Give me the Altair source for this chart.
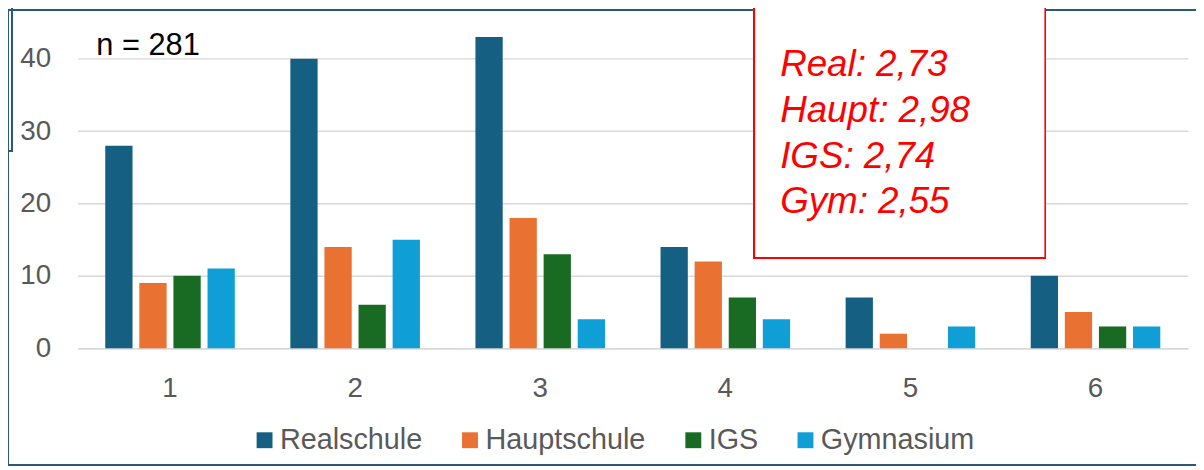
import altair as alt
import pandas as pd

categories = ["1", "2", "3", "4", "5", "6"]
series = ["Realschule", "Hauptschule", "IGS", "Gymnasium"]
realschule = [28, 40, 43, 14, 7, 10]
hauptschule = [9, 14, 18, 12, 2, 5]
igs = [10, 6, 13, 7, 0, 3]
gymnasium = [11, 15, 4, 4, 3, 3]
colors = ["#156082", "#E97132", "#196B24", "#0F9ED5"]
y_ticks = [0, 10, 20, 30, 40]
n_label = "n = 281"
box_lines = ["Real: 2,73", "Haupt: 2,98", "IGS: 2,74", "Gym: 2,55"]

rows = []
for s, vals in zip(series, [realschule, hauptschule, igs, gymnasium]):
    for c, v in zip(categories, vals):
        rows.append({"Note": c, "Schule": s, "Anzahl": v})
df = pd.DataFrame(rows)

W, H = 1119, 328
FONT = "Liberation Sans"

bars = alt.Chart(df).mark_bar().encode(
    x=alt.X("Note:N", sort=categories, title=None,
            scale=alt.Scale(paddingInner=0.3, paddingOuter=0.15),
            axis=alt.Axis(labelAngle=0, ticks=False, domain=True, domainColor="#d9d9d9",
                          domainWidth=1.5, labelFontSize=28, labelColor="#595959",
                          labelPadding=27, labelFont=FONT)),
    xOffset=alt.XOffset("Schule:N", sort=series,
                        scale=alt.Scale(paddingInner=0.2, paddingOuter=0)),
    y=alt.Y("Anzahl:Q", title=None,
            scale=alt.Scale(domain=[0, 45], nice=False),
            axis=alt.Axis(values=y_ticks, ticks=False, domain=False, grid=True,
                          gridColor="#d9d9d9", gridWidth=1.5, labelFontSize=28,
                          labelColor="#595959", labelPadding=27, labelFont=FONT)),
    color=alt.Color("Schule:N", sort=series,
                    scale=alt.Scale(domain=series, range=colors),
                    legend=alt.Legend(title=None, orient="none", legendX=174, legendY=406,
                                      direction="horizontal", columns=4,
                                      symbolType="square", symbolSize=256,
                                      symbolStrokeWidth=0, labelFontSize=29,
                                      labelColor="#595959", labelFont=FONT, labelLimit=0,
                                      labelOffset=1, columnPadding=33, padding=0)),
)

# decorative slide frame pieces
border = alt.Chart(df).mark_rect(fill=None, stroke="#2B5A78", strokeWidth=1.5).encode(
    x=alt.value(-70), x2=alt.value(1140), y=alt.value(-13), y2=alt.value(446))
small_box = alt.Chart(df).mark_rect(fill=None, stroke="#2B5A78", strokeWidth=1.5).encode(
    x=alt.value(-90), x2=alt.value(-66), y=alt.value(-30), y2=alt.value(129))
yellow = alt.Chart(df).mark_rect(color="#FFFFC2").encode(
    x=alt.value(-72), x2=alt.value(-70.8), y=alt.value(130), y2=alt.value(445))

n_text = alt.Chart(pd.DataFrame({"t": [n_label]})).mark_text(
    align="left", baseline="alphabetic", fontSize=31, color="#000000", font=FONT
).encode(x=alt.value(19), y=alt.value(33), text="t:N")

red_box = alt.Chart(df).mark_rect(fill="white", stroke="#FF0000", strokeWidth=1.5).encode(
    x=alt.value(682), x2=alt.value(975), y=alt.value(-16), y2=alt.value(237))

red_text = alt.Chart(pd.DataFrame({"t": ["\n".join(box_lines)]})).mark_text(
    align="left", baseline="alphabetic", fontSize=37, fontStyle="italic",
    color="#FF0000", font=FONT, lineBreak="\n", lineHeight=46
).encode(x=alt.value(708), y=alt.value(54), text="t:N")

chart = alt.layer(small_box, yellow, border, bars, red_box, red_text, n_text).properties(
    width=W, height=H,
    autosize=alt.AutoSizeParams(type="none"),
    padding={"left": 70, "top": 13, "right": 8, "bottom": 124},
    background="white",
).configure_view(stroke=None)

chart.save("out.html", embed_options={"renderer": "svg", "actions": False})
